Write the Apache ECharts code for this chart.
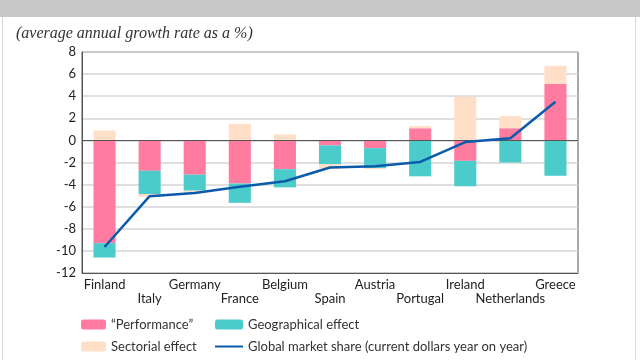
<!DOCTYPE html>
<html>
<head>
<meta charset="utf-8">
<script src="https://cdn.jsdelivr.net/npm/echarts@6/dist/echarts.min.js"></script>
<style>
  html, body { margin: 0; padding: 0; background: #fff; }
  #main { width: 640px; height: 360px; }
</style>
</head>
<body>
<div id="main"></div>
<script>
const countries = ["Finland", "Italy", "Germany", "France", "Belgium", "Spain", "Austria", "Portugal", "Ireland", "Netherlands", "Greece"];
const performance = [-9.3, -2.75, -3.1, -3.9, -2.6, -0.45, -0.7, 1.1, -1.85, 1.1, 5.1];
const geographical = [-1.3, -2.1, -1.45, -1.75, -1.65, -1.7, -1.8, -3.25, -2.3, -2.0, -3.2];
const sectorial = [0.9, -0.25, -0.2, 1.5, 0.55, -0.4, -0.1, 0.2, 3.95, 1.1, 1.65];
const marketShare = [-9.65, -5.05, -4.75, -4.2, -3.7, -2.45, -2.35, -1.95, -0.15, 0.2, 3.5];

const chart = echarts.init(document.getElementById('main'), null, { renderer: 'canvas' });

const font = 'Lato, "Open Sans", sans-serif';
const lineName = 'Global market share (current dollars year on year)';

const option = {
  animation: false,
  backgroundColor: '#fff',
  textStyle: { fontFamily: font },
  title: {
    text: '(average annual growth rate as a %)',
    left: 11,
    top: 21,
    textStyle: {
      fontFamily: '"Liberation Serif", "DejaVu Serif", serif',
      fontStyle: 'italic',
      fontWeight: 'normal',
      fontSize: 16,
      color: '#333'
    }
  },
  graphic: [
    { type: 'rect', shape: { x: 0, y: 0, width: 640, height: 17 }, style: { fill: '#c8c8c8' }, z: -1 },
    { type: 'line', shape: { x1: 2.5, y1: 17, x2: 2.5, y2: 360 }, style: { stroke: '#d8d8d8', lineWidth: 1 } },
    { type: 'line', shape: { x1: 635.5, y1: 17, x2: 635.5, y2: 360 }, style: { stroke: '#d8d8d8', lineWidth: 1 } }
  ],
  legend: [
    {
      orient: 'vertical',
      left: 76,
      top: 313,
      itemWidth: 25,
      itemHeight: 10,
      itemGap: 9,
      textStyle: { fontFamily: font, fontSize: 13, color: '#333' },
      data: ['\u201cPerformance\u201d', 'Sectorial effect']
    },
    {
      orient: 'vertical',
      left: 209,
      top: 313,
      itemWidth: 28,
      itemHeight: 10,
      itemGap: 9,
      textStyle: { fontFamily: font, fontSize: 13, color: '#333' },
      data: ['Geographical effect', { name: lineName, itemStyle: { opacity: 0 } }]
    }
  ],
  grid: {
    left: 82,
    right: 62,
    top: 52,
    bottom: 87,
    show: true,
    borderColor: '#555',
    borderWidth: 1
  },
  xAxis: {
    type: 'category',
    data: countries,
    axisLine: { show: true, onZero: false, lineStyle: { color: '#555' } },
    axisTick: { show: false },
    axisLabel: {
      interval: 0,
      margin: 5,
      fontSize: 13,
      color: '#222',
      lineHeight: 14,
      formatter: (v, i) => (i % 2 ? '\n' + v : v)
    }
  },
  yAxis: {
    type: 'value',
    min: -12,
    max: 8,
    interval: 2,
    axisLine: { show: true, lineStyle: { color: '#555' } },
    axisTick: { show: false },
    axisLabel: { fontSize: 13, color: '#222', margin: 6 },
    splitLine: { lineStyle: { color: '#d4d4d4', width: 1.5 } }
  },
  series: [
    {
      name: '\u201cPerformance\u201d',
      type: 'bar',
      stack: 'total',
      barWidth: '49%',
      itemStyle: { color: '#ff7ba0' },
      data: performance
    },
    {
      name: 'Geographical effect',
      type: 'bar',
      stack: 'total',
      itemStyle: { color: '#4ccbcb' },
      data: geographical
    },
    {
      name: 'Sectorial effect',
      type: 'bar',
      stack: 'total',
      itemStyle: { color: '#ffdfc8' },
      data: sectorial
    },
    {
      name: lineName,
      type: 'line',
      symbol: 'none',
      z: 5,
      lineStyle: { color: '#0b5aac', width: 2.5 },
      itemStyle: { color: '#0b5aac' },
      data: marketShare,
      markLine: {
        silent: true,
        symbol: 'none',
        label: { show: false },
        lineStyle: { color: '#555', type: 'solid', width: 1 },
        data: [{ yAxis: 0 }]
      }
    }
  ]
};

chart.setOption(option);
</script>
</body>
</html>
